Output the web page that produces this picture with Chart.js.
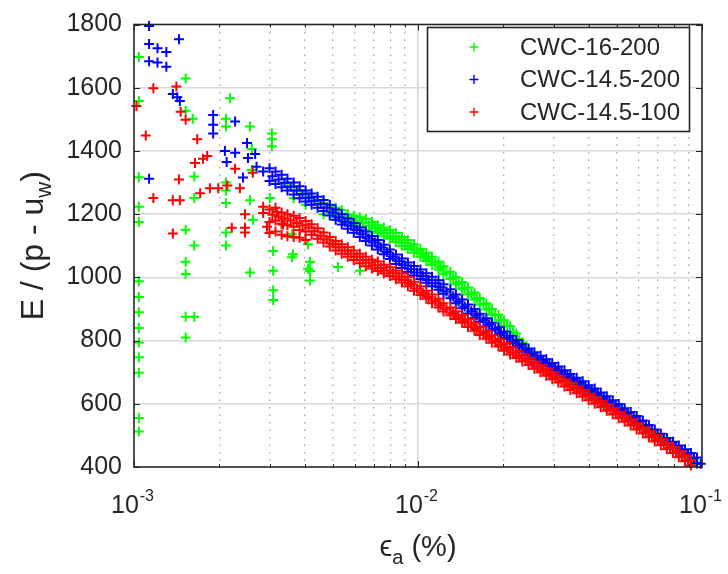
<!DOCTYPE html>
<html>
<head>
<meta charset="utf-8">
<script src="https://cdn.jsdelivr.net/npm/chart.js@4.4.1/dist/chart.umd.min.js"></script>
<style>
  html, body { margin: 0; padding: 0; background: #fff; }
  #wrap { position: relative; width: 728px; height: 574px; }
</style>
</head>
<body>
<div id="wrap"><canvas id="chart" width="728" height="574"></canvas></div>
<script>
// E/(p-uw) against axial strain, three CWC tests, log x.

const seriesNames = ['CWC-16-200', 'CWC-14.5-200', 'CWC-14.5-100'];
const seriesColors = ['#00ff00', '#0000ff', '#ff0000'];

const yTicks = [400, 600, 800, 1000, 1200, 1400, 1600, 1800];
const xMajorTicks = [0.001, 0.01, 0.1];
const xTickExp = ['-3', '-2', '-1'];
const xMinorTicks = [0.002, 0.003, 0.004, 0.005, 0.006, 0.007, 0.008, 0.009,
  0.02, 0.03, 0.04, 0.05, 0.06, 0.07, 0.08, 0.09];

// CWC-16-200 (green)
const cwc16_200 = [
  [0.00104,1697],[0.00104,1558],[0.00104,1317],[0.00104,1223],[0.00104,1175],[0.00104,988],
  [0.00104,938],[0.00104,890],[0.00104,840],[0.00104,794],[0.00104,747],[0.00104,698],
  [0.00104,555],[0.00104,512],
  [0.00152,1629],[0.00218,1567],[0.00152,1527],[0.00161,1502],[0.00211,1502],[0.00211,1477],
  [0.00256,1477],[0.00306,1455],[0.00306,1437],[0.00306,1415],[0.00260,1406],[0.00163,1319],
  [0.00260,1340],[0.00211,1300],[0.00211,1275],[0.00163,1251],[0.00211,1235],[0.00256,1244],
  [0.00262,1182],[0.00152,1151],[0.00211,1142],[0.00163,1101],[0.00211,1101],[0.00152,1049],
  [0.00152,1011],[0.00256,1015],[0.00309,1083],[0.00309,1021],[0.00309,959],[0.00309,928],
  [0.00152,875],[0.00163,875],[0.00152,810],
  [0.00301,1251],[0.00360,1136],[0.00360,1064],[0.00363,1073],[0.00410,1105],[0.00417,1049],
  [0.00417,1020],[0.00417,990],[0.00410,1027],[0.00523,1033],[0.00625,1021],
  [0.00347,1290],[0.00365,1285],[0.00365,1250],[0.00383,1275],[0.00402,1265],[0.00402,1230],
  [0.00422,1255],[0.00443,1245],[0.00465,1235],[0.00465,1200],[0.00489,1228],[0.00513,1220],
  [0.00513,1190],[0.00539,1212],[0.00539,1180],[0.00566,1200],[0.00566,1170],[0.00594,1195],
  [0.00594,1165],[0.00624,1190],[0.00624,1160],[0.00655,1185],[0.00655,1150],[0.00688,1175],
  [0.00688,1145],[0.00722,1165],[0.00722,1140],[0.00758,1158],[0.00758,1130],[0.00796,1150],
  [0.00796,1122],[0.00836,1140],[0.00836,1112],[0.00878,1128],[0.00878,1100],[0.00921,1118],
  [0.00921,1090],[0.00968,1105],[0.00968,1078],[0.0102,1090],[0.0102,1065],[0.0107,1078],
  [0.0107,1052],[0.0112,1065],[0.0112,1040],[0.0118,1050],[0.0118,1025],[0.0123,1035],
  [0.0123,1010],[0.0130,1018],[0.0130,995],[0.0136,1000],[0.0136,978],[0.0143,985],
  [0.0143,962],[0.0150,968],[0.0150,946],[0.0158,952],[0.0158,930],[0.0165,935],
  [0.0165,914],[0.0174,918],[0.0174,898],[0.0182,900],[0.0182,882],[0.0192,882],
  [0.0192,864],[0.0201,864],[0.0201,846],[0.0211,845],[0.0211,828],[0.0222,822],
  [0.0222,806],[0.0233,795],[0.0233,780],[0.0245,770],[0.0245,755],[0.0257,745],
  [0.0270,735],[0.0283,724],[0.0297,712],[0.0312,700],[0.0328,688],[0.0344,677],
  [0.0362,665],[0.0380,654],[0.0399,642],[0.0419,630],[0.0440,618],[0.0462,606],
  [0.0485,594],[0.0509,582],[0.0534,569],[0.0561,556],[0.0589,543],[0.0619,530],
  [0.0650,517],[0.0682,503],[0.0716,489],[0.0752,476],[0.0790,463],[0.0829,450],
  [0.0871,437],[0.0914,424],[0.0960,410]
];
const cwc16_200_mid = [
  [0.00501,1212],[0.00526,1200],[0.00552,1190],[0.00580,1182],[0.00609,1178],[0.00639,1172],
  [0.00671,1164],[0.00705,1156],[0.00740,1148],[0.00777,1140],[0.00816,1131],[0.00857,1120],
  [0.00899,1109],[0.00944,1098],[0.00992,1085],[0.0104,1072],[0.0109,1059],[0.0115,1046],
  [0.0120,1031],[0.0126,1015],[0.0133,998],[0.0139,981],[0.0146,966],[0.0154,949],
  [0.0161,933],[0.0170,916],[0.0178,900],[0.0187,882],[0.0196,864],[0.0206,846],
  [0.0216,826],[0.0227,801],[0.0239,776],[0.0251,756],[0.0263,740],[0.0276,729],
  [0.0290,718],[0.0304,706],[0.0320,694],[0.0336,683],[0.0353,671],[0.0371,660],
  [0.0389,648],[0.0409,636],[0.0429,624],[0.0451,612],[0.0473,600],[0.0497,588],
  [0.0522,576],[0.0548,562],[0.0575,550],[0.0604,536],[0.0634,523],[0.0666,510],
  [0.0699,496],[0.0734,482],[0.0771,470],[0.0810,456],[0.0850,443],[0.0893,430],
  [0.0937,417]
];

// CWC-14.5-200 (blue)
const cwc145_200 = [
  [0.00113,1795],[0.00113,1738],[0.00121,1725],[0.00130,1713],[0.00144,1753],[0.00113,1684],
  [0.00121,1680],[0.00130,1666],[0.00137,1580],[0.00142,1570],[0.00145,1558],[0.00190,1514],
  [0.00190,1483],[0.00190,1455],[0.00227,1493],[0.00209,1400],[0.00227,1394],[0.00212,1365],
  [0.00250,1425],[0.00252,1378],[0.00267,1390],[0.00242,1316],[0.00113,1312],[0.00270,1350],
  [0.00285,1335],
  [0.00300,1345],[0.00300,1305],[0.00315,1335],[0.00315,1295],[0.00331,1325],[0.00331,1285],
  [0.00347,1312],[0.00347,1275],[0.00365,1300],[0.00365,1262],[0.00383,1288],[0.00383,1250],
  [0.00402,1275],[0.00402,1240],[0.00422,1265],[0.00422,1230],[0.00443,1255],[0.00443,1220],
  [0.00465,1245],[0.00465,1210],[0.00489,1230],[0.00489,1196],[0.00513,1215],[0.00513,1182],
  [0.00539,1200],[0.00539,1167],[0.00566,1186],[0.00566,1154],[0.00594,1172],[0.00594,1141],
  [0.00624,1158],[0.00624,1128],[0.00655,1145],[0.00655,1115],[0.00688,1131],[0.00688,1101],
  [0.00722,1118],[0.00722,1088],[0.00758,1103],[0.00758,1073],[0.00796,1088],[0.00796,1058],
  [0.00836,1072],[0.00836,1042],[0.00878,1060],[0.00878,1030],[0.00921,1047],[0.00921,1017],
  [0.00968,1036],[0.00968,1006],[0.0102,1025],[0.0102,995],[0.0107,1013],[0.0107,983],
  [0.0112,1002],[0.0112,972],[0.0118,991],[0.0118,961],[0.0123,978],[0.0123,948],
  [0.0130,962],[0.0130,934],[0.0136,946],[0.0136,918],[0.0143,930],[0.0143,902],
  [0.0150,914],[0.0150,886],[0.0158,900],[0.0158,872],[0.0165,885],[0.0165,859],
  [0.0174,871],[0.0174,845],[0.0182,856],[0.0182,832],[0.0192,842],[0.0192,818],
  [0.0201,829],[0.0201,805],[0.0211,815],[0.0211,791],[0.0222,802],[0.0222,778],
  [0.0233,789],[0.0233,765],[0.0245,775],[0.0245,753],[0.0257,763],[0.0257,741],
  [0.0270,752],[0.0270,730],[0.0283,741],[0.0283,719],[0.0297,729],[0.0297,707],
  [0.0312,718],[0.0312,696],[0.0328,706],[0.0328,684],[0.0344,694],[0.0344,674],
  [0.0362,682],[0.0362,662],[0.0380,671],[0.0380,651],[0.0399,659],[0.0399,639],
  [0.0419,648],[0.0419,628],[0.0440,636],[0.0440,616],[0.0462,624],[0.0462,604],
  [0.0485,611],[0.0485,591],[0.0509,599],[0.0509,579],[0.0534,586],[0.0534,566],
  [0.0561,574],[0.0561,554],[0.0589,561],[0.0589,541],[0.0619,547],[0.0619,527],
  [0.0650,533],[0.0650,513],[0.0682,519],[0.0682,499],[0.0716,505],[0.0716,485],
  [0.0752,492],[0.0752,472],[0.0790,480],[0.0790,460],[0.0829,468],[0.0829,448],
  [0.0871,456],[0.0871,436],[0.0914,444],[0.0914,424],[0.0960,430],[0.0960,412],
  [0.0990,410]
];
const cwc145_200_mid = [
  [0.00307,1320],[0.00323,1310],[0.00339,1299],[0.00356,1287],[0.00374,1275],[0.00392,1263],
  [0.00412,1252],[0.00432,1242],[0.00454,1232],[0.00477,1220],[0.00501,1205],[0.00526,1190],
  [0.00552,1176],[0.00580,1163],[0.00609,1150],[0.00639,1136],[0.00671,1123],[0.00705,1110],
  [0.00740,1095],[0.00777,1080],[0.00816,1065],[0.00857,1051],[0.00899,1038],[0.00944,1026],
  [0.00992,1015],[0.0104,1004],[0.0109,992],[0.0115,981],[0.0120,969],[0.0126,955],
  [0.0133,940],[0.0139,924],[0.0146,908],[0.0154,893],[0.0161,879],[0.0170,865],
  [0.0178,851],[0.0187,837],[0.0196,823],[0.0206,810],[0.0216,796],[0.0227,783],
  [0.0239,770],[0.0251,758],[0.0263,746],[0.0276,735],[0.0290,724],[0.0304,712],
  [0.0320,701],[0.0336,689],[0.0353,678],[0.0371,666],[0.0389,655],[0.0409,643],
  [0.0429,632],[0.0451,620],[0.0473,607],[0.0497,595],[0.0522,582],[0.0548,570],
  [0.0575,557],[0.0604,544],[0.0634,530],[0.0666,516],[0.0699,502],[0.0734,488],
  [0.0771,476],[0.0810,464],[0.0850,452],[0.0893,440],[0.0937,428]
];

// CWC-14.5-100 (red)
const cwc145_100 = [
  [0.00102,1542],[0.00117,1598],[0.00141,1604],[0.00110,1449],[0.00146,1524],[0.00152,1499],
  [0.00167,1437],[0.00144,1310],[0.00164,1362],[0.00175,1375],[0.00181,1384],[0.00117,1251],
  [0.00137,1244],[0.00145,1244],[0.00185,1282],[0.00198,1282],[0.00213,1291],[0.00236,1282],
  [0.00171,1266],[0.00227,1344],[0.00262,1331],[0.00137,1139],[0.00221,1157],[0.00246,1200],
  [0.00246,1157],[0.00246,1142],[0.00285,1223],[0.00285,1204],[0.00294,1160],[0.00319,1207],
  [0.00335,1167],
  [0.00300,1215],[0.00300,1175],[0.00300,1140],[0.00315,1220],[0.00315,1180],[0.00315,1145],
  [0.00331,1205],[0.00331,1170],[0.00331,1135],[0.00347,1200],[0.00347,1165],[0.00347,1130],
  [0.00365,1195],[0.00365,1160],[0.00365,1128],[0.00383,1188],[0.00383,1150],[0.00383,1125],
  [0.00402,1178],[0.00402,1145],[0.00402,1118],[0.00422,1168],[0.00422,1135],[0.00443,1155],
  [0.00443,1122],[0.00465,1142],[0.00465,1110],[0.00489,1128],[0.00489,1098],[0.00513,1115],
  [0.00513,1085],[0.00539,1105],[0.00539,1075],[0.00566,1095],[0.00566,1065],[0.00594,1085],
  [0.00594,1055],[0.00624,1075],[0.00624,1045],[0.00655,1065],[0.00655,1035],[0.00688,1056],
  [0.00688,1028],[0.00722,1050],[0.00722,1020],[0.00758,1040],[0.00758,1012],[0.00796,1032],
  [0.00796,1004],[0.00836,1022],[0.00836,994],[0.00878,1012],[0.00878,984],[0.00921,1000],
  [0.00921,972],[0.00968,986],[0.00968,958],[0.0102,972],[0.0102,944],[0.0107,958],
  [0.0107,932],[0.0112,946],[0.0112,918],[0.0118,932],[0.0118,905],[0.0123,918],
  [0.0123,892],[0.0130,905],[0.0130,880],[0.0136,893],[0.0136,868],[0.0143,880],
  [0.0143,856],[0.0150,868],[0.0150,843],[0.0158,856],[0.0158,831],[0.0165,843],
  [0.0165,818],[0.0174,830],[0.0174,806],[0.0182,818],[0.0182,793],[0.0192,805],
  [0.0192,781],[0.0201,792],[0.0201,768],[0.0211,780],[0.0211,756],[0.0222,768],
  [0.0222,745],[0.0233,756],[0.0233,734],[0.0245,745],[0.0245,723],[0.0257,733],
  [0.0257,711],[0.0270,722],[0.0270,700],[0.0283,711],[0.0283,689],[0.0297,700],
  [0.0297,678],[0.0312,688],[0.0312,667],[0.0328,676],[0.0328,655],[0.0344,665],
  [0.0344,644],[0.0362,654],[0.0362,633],[0.0380,643],[0.0380,622],[0.0399,631],
  [0.0399,611],[0.0419,620],[0.0419,600],[0.0440,609],[0.0440,589],[0.0462,598],
  [0.0462,578],[0.0485,586],[0.0485,566],[0.0509,574],[0.0509,554],[0.0534,563],
  [0.0534,543],[0.0561,551],[0.0561,531],[0.0589,539],[0.0589,519],[0.0619,526],
  [0.0619,506],[0.0650,514],[0.0650,494],[0.0682,501],[0.0682,481],[0.0716,489],
  [0.0716,469],[0.0752,476],[0.0752,456],[0.0790,464],[0.0790,444],[0.0829,451],
  [0.0829,431],[0.0871,438],[0.0871,418],[0.0914,422],[0.0914,405]
];
const cwc145_100_mid = [
  [0.00307,1198],[0.00323,1192],[0.00339,1186],[0.00356,1180],[0.00374,1172],[0.00392,1165],
  [0.00412,1158],[0.00432,1146],[0.00454,1132],[0.00477,1120],[0.00501,1106],[0.00526,1095],
  [0.00552,1085],[0.00580,1075],[0.00609,1065],[0.00639,1055],[0.00671,1046],[0.00705,1038],
  [0.00740,1030],[0.00777,1022],[0.00816,1013],[0.00857,1003],[0.00899,992],[0.00944,979],
  [0.00992,965],[0.0104,951],[0.0109,938],[0.0115,925],[0.0120,912],[0.0126,899],
  [0.0133,887],[0.0139,874],[0.0146,862],[0.0154,850],[0.0161,837],[0.0170,824],
  [0.0178,812],[0.0187,799],[0.0196,786],[0.0206,774],[0.0216,762],[0.0227,751],
  [0.0239,739],[0.0251,728],[0.0263,716],[0.0276,705],[0.0290,694],[0.0304,683],
  [0.0320,672],[0.0336,660],[0.0353,649],[0.0371,638],[0.0389,627],[0.0409,615],
  [0.0429,604],[0.0451,593],[0.0473,582],[0.0497,570],[0.0522,558],[0.0548,547],
  [0.0575,535],[0.0604,522],[0.0634,510],[0.0666,497],[0.0699,485],[0.0734,472],
  [0.0771,460],[0.0810,447],[0.0850,434],[0.0893,421]
];

const FONT = "'Liberation Sans', Arial, Helvetica, sans-serif";
const INK = '#262626';

function toPoints(arr) {
  return arr.map(([x, y]) => ({ x, y }));
}

function strokeCross(ctx, x, y, r) {
  ctx.beginPath();
  ctx.moveTo(x - r, y); ctx.lineTo(x + r, y);
  ctx.moveTo(x, y - r); ctx.lineTo(x, y + r);
  ctx.stroke();
}

// box, inward ticks, exponent tick labels, axis titles, legend
const axesDecor = {
  id: 'axesDecor',
  afterDraw(chart) {
    const { ctx, chartArea: a, scales } = chart;
    const sx = scales.x, sy = scales.y;
    ctx.save();

    ctx.strokeStyle = INK;
    ctx.lineWidth = 1;
    const seg = (x1, y1, x2, y2) => { ctx.beginPath(); ctx.moveTo(x1, y1); ctx.lineTo(x2, y2); ctx.stroke(); };
    yTicks.forEach((v) => {
      const y = Math.round(sy.getPixelForValue(v)) + 0.5;
      seg(a.left, y, a.left + 6, y);
      seg(a.right, y, a.right - 6, y);
    });
    xMajorTicks.forEach((v) => {
      const x = Math.round(sx.getPixelForValue(v)) + 0.5;
      seg(x, a.bottom, x, a.bottom - 6);
      seg(x, a.top, x, a.top + 6);
    });
    xMinorTicks.forEach((v) => {
      const x = Math.round(sx.getPixelForValue(v)) + 0.5;
      seg(x, a.bottom, x, a.bottom - 3);
      seg(x, a.top, x, a.top + 3);
    });

    ctx.lineWidth = 1.6;
    ctx.strokeRect(a.left, a.top, a.right - a.left, a.bottom - a.top);

    // x tick labels: 10 with raised exponent
    ctx.fillStyle = INK;
    ctx.textBaseline = 'alphabetic';
    ctx.textAlign = 'left';
    xMajorTicks.forEach((v, i) => {
      const x = sx.getPixelForValue(v);
      ctx.font = `25px ${FONT}`;
      const wb = ctx.measureText('10').width;
      ctx.font = `16px ${FONT}`;
      const we = ctx.measureText(xTickExp[i]).width;
      const x0 = x - (wb + we) / 2 - 2;
      ctx.font = `25px ${FONT}`;
      ctx.fillText('10', x0, 513);
      ctx.font = `16px ${FONT}`;
      ctx.fillText(xTickExp[i], x0 + wb + 1, 501);
    });

    // x title
    const cx = (a.left + a.right) / 2;
    ctx.font = `29px ${FONT}`;
    const w1 = ctx.measureText('\u03F5').width;
    const w3 = ctx.measureText(' (%)').width;
    ctx.font = `20px ${FONT}`;
    const w2 = ctx.measureText('a').width;
    const xs = cx - (w1 + w2 + w3) / 2;
    ctx.font = `29px ${FONT}`;
    ctx.fillText('\u03F5', xs, 556);
    ctx.font = `20px ${FONT}`;
    ctx.fillText('a', xs + w1, 564);
    ctx.font = `29px ${FONT}`;
    ctx.fillText(' (%)', xs + w1 + w2, 556);

    // y title, rotated
    ctx.save();
    ctx.translate(32, (a.top + a.bottom) / 2);
    ctx.rotate(-Math.PI / 2);
    ctx.font = `32px ${FONT}`;
    const t1 = ctx.measureText('E / (p - u').width;
    const t3 = ctx.measureText(')').width;
    ctx.font = `22px ${FONT}`;
    const t2 = ctx.measureText('w').width;
    const ys = -(t1 + t2 + t3) / 2;
    ctx.font = `32px ${FONT}`;
    ctx.fillText('E / (p - u', ys, 11);
    ctx.font = `22px ${FONT}`;
    ctx.fillText('w', ys + t1, 19);
    ctx.font = `32px ${FONT}`;
    ctx.fillText(')', ys + t1 + t2, 11);
    ctx.restore();

    // legend box
    const lx = 427.5, ly = 27.5, lw = 262, lh = 104;
    ctx.fillStyle = '#fff';
    ctx.fillRect(lx, ly, lw, lh);
    ctx.strokeStyle = INK;
    ctx.lineWidth = 1.6;
    ctx.strokeRect(lx, ly, lw, lh);
    ctx.font = `24px ${FONT}`;
    ctx.textBaseline = 'middle';
    seriesNames.forEach((name, i) => {
      const y = 47 + i * 32.5;
      ctx.strokeStyle = seriesColors[i];
      ctx.lineWidth = 1.4;
      strokeCross(ctx, 474, y, 4.5);
      ctx.fillStyle = INK;
      ctx.fillText(name, 520, y + 1);
    });

    ctx.restore();
  },
};

const seriesData = [
  cwc16_200.concat(cwc16_200_mid),
  cwc145_200.concat(cwc145_200_mid),
  cwc145_100.concat(cwc145_100_mid),
];

new Chart(document.getElementById('chart'), {
  type: 'scatter',
  data: {
    datasets: seriesData.map((d, i) => ({
      label: seriesNames[i],
      data: toPoints(d),
      pointStyle: 'cross',
      pointRadius: 5,
      pointBorderWidth: 2,
      borderColor: seriesColors[i],
      backgroundColor: seriesColors[i],
      order: 3 - i,
      clip: false,
    })),
  },
  options: {
    responsive: false,
    animation: false,
    events: [],
    layout: { padding: { top: 16, right: 26, left: 0, bottom: 0 } },
    plugins: { legend: { display: false }, tooltip: { enabled: false } },
    scales: {
      x: {
        type: 'logarithmic',
        position: 'bottom',
        min: 0.001,
        max: 0.1,
        afterBuildTicks: (s) => { s.ticks = xMajorTicks.map((v) => ({ value: v, major: true })); },
        afterFit: (s) => { s.height = 107; },
        ticks: { display: false },
        grid: {
          drawTicks: false,
          lineWidth: 1.5,
          color: (c) => (c.tick && c.tick.value === 0.01 ? '#d2d2d2' : 'rgba(0,0,0,0)'),
        },
        border: { display: false },
      },
      xMinor: {
        type: 'logarithmic',
        position: 'bottom',
        min: 0.001,
        max: 0.1,
        afterBuildTicks: (s) => { s.ticks = xMinorTicks.map((v) => ({ value: v })); },
        afterFit: (s) => { s.height = 0; },
        ticks: { display: false },
        grid: { drawTicks: false, lineWidth: 1.3, color: '#a6a6a6' },
        border: { display: false, dash: [1.5, 6] },
      },
      y: {
        min: 400,
        max: 1800,
        afterBuildTicks: (s) => { s.ticks = yTicks.map((v) => ({ value: v })); },
        afterFit: (s) => { s.width = 134; },
        ticks: {
          color: INK,
          padding: 12,
          font: { family: FONT, size: 25, lineHeight: 1 },
          callback: (v) => String(v),
        },
        grid: {
          drawTicks: false,
          lineWidth: 1.5,
          color: (c) => (c.tick && (c.tick.value === 400 || c.tick.value === 1800) ? 'rgba(0,0,0,0)' : '#d9d9d9'),
        },
        border: { display: false },
      },
    },
  },
  plugins: [axesDecor],
});
</script>
</body>
</html>
